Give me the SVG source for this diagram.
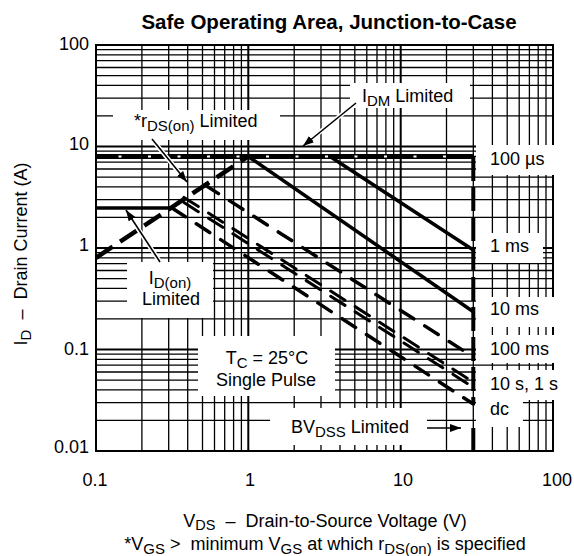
<svg xmlns="http://www.w3.org/2000/svg" width="574" height="556" viewBox="0 0 574 556">
<style>
.g{stroke:#000;stroke-width:1.3;fill:none}
.gm{stroke:#000;stroke-width:2;fill:none}
.box{fill:#fff}
.t{font-family:"Liberation Sans",Arial,Helvetica,sans-serif;font-size:18px;fill:#000}
.b{font-weight:bold;font-size:20.5px}
.solid{stroke:#000;stroke-width:3.5;fill:none}
.dash{stroke:#000;stroke-width:3.5;fill:none;stroke-dasharray:16 13;stroke-linecap:round}
.dash2{stroke:#000;stroke-width:3;fill:none;stroke-dasharray:17 12;stroke-linecap:round}
.halo{stroke:#fff;stroke-width:4.5;fill:none}
.arr{stroke:#000;stroke-width:1.6;fill:none}
</style>
<defs>
<marker id="ah" markerUnits="userSpaceOnUse" markerWidth="12" markerHeight="10" refX="11" refY="4" orient="auto">
<path d="M0 0L11 4L0 8Z" fill="#000"/>
</marker>
</defs>
<text class="t b" x="329" y="29" text-anchor="middle">Safe Operating Area, Junction-to-Case</text>
<g id="grid">
<path class="g" d="M141.9 45V451M168.7 45V451M187.7 45V451M202.5 45V451M214.5 45V451M224.7 45V451M233.6 45V451M241.4 45V451M294.2 45V451M321 45V451M340 45V451M354.8 45V451M366.8 45V451M377 45V451M385.9 45V451M393.7 45V451M446.5 45V451M473.3 45V451M492.4 45V451M507.2 45V451M519.2 45V451M529.4 45V451M538.2 45V451M546 45V451"/>
<path class="g" d="M96 49.6H553M96 54.8H553M96 60.7H553M96 67.5H553M96 75.55H553M96 85.4H553M96 98.1H553M96 115.95H553M96 151.1H553M96 156.3H553M96 162.2H553M96 169H553M96 177.05H553M96 186.9H553M96 199.6H553M96 217.45H553M96 252.6H553M96 257.8H553M96 263.7H553M96 270.5H553M96 278.55H553M96 288.4H553M96 301.1H553M96 318.95H553M96 354.1H553M96 359.3H553M96 365.2H553M96 372H553M96 380.05H553M96 389.9H553M96 402.6H553M96 420.45H553"/>
<path class="gm" d="M248.3 45V451M400.7 45V451M96 146.5H553M96 248H553M96 349.5H553"/>
<rect class="gm" x="96" y="45" width="457" height="406"/>
</g>
<g id="label-boxes">
<rect class="box" x="113" y="110" width="167" height="30"/>
<rect class="box" x="350" y="83" width="120" height="25"/>
<rect class="box" x="127" y="262" width="86" height="56"/>
<rect class="box" x="198" y="336" width="137" height="60"/>
<rect class="box" x="270" y="408" width="157" height="37"/>
<rect class="box" x="476" y="145" width="86" height="30"/>
<rect class="box" x="476" y="233" width="67" height="30"/>
<rect class="box" x="476" y="297" width="86" height="30"/>
<rect class="box" x="476" y="335" width="86" height="28"/>
<rect class="box" x="476" y="370" width="86" height="30"/>
<rect class="box" x="476" y="400" width="47" height="27"/>
</g>
<g id="connectors">
<path d="M96 156.5H473.3" stroke="#000" stroke-width="5" fill="none"/>
<path d="M118.5 156.5H470" stroke="#fff" stroke-width="2" stroke-dasharray="3 26.5" fill="none"/>
<path d="M473.3 157V404" stroke="#000" stroke-width="4" stroke-dasharray="24 6" fill="none"/>
<path d="M473.3 428V451" stroke="#000" stroke-width="4" fill="none"/>
<path d="M96 257.8L248.3 156.3" stroke="#000" stroke-width="4.5" stroke-dasharray="20 9" fill="none"/>
<path class="solid" d="M96 208H172"/>
<path class="solid" d="M248.3 156.5L473.3 311.7"/>
<path class="solid" d="M330 156.5L473.3 250"/>
<path class="dash" d="M205 185L473.3 357"/>
<path class="dash2" d="M184 197.4L473.3 382.1"/>
<path class="dash2" d="M184 202.6L473.3 387.3"/>
<path class="dash" d="M172 208L473.3 404"/>
<path class="halo" d="M152 139L185 180"/>
<path class="arr" d="M152 139L187 182" marker-end="url(#ah)"/>
<path class="halo" d="M356 103L305 144"/>
<path class="arr" d="M356 103L303 146" marker-end="url(#ah)"/>
<path class="halo" d="M160 262L127 212"/>
<path class="arr" d="M160 262L126 210" marker-end="url(#ah)"/>
<path class="arr" d="M427 428H461" stroke-width="2" marker-end="url(#ah)"/>
</g>
<g id="labels">
<text class="t" x="134" y="127">*r<tspan font-size="15" dy="4">DS(on)</tspan><tspan dy="-4"> Limited</tspan></text>
<text class="t" x="362" y="102">I<tspan font-size="15" dy="4">DM</tspan><tspan dy="-4"> Limited</tspan></text>
<text class="t" x="170" y="284" text-anchor="middle">I<tspan font-size="15" dy="3.5">D(on)</tspan></text>
<text class="t" x="171" y="305" text-anchor="middle">Limited</text>
<text class="t" x="267" y="364" text-anchor="middle">T<tspan font-size="15" dy="3.5">C</tspan><tspan dy="-3.5"> = 25°C</tspan></text>
<text class="t" x="266" y="386" text-anchor="middle">Single Pulse</text>
<text class="t" x="291" y="433">BV<tspan font-size="15" dy="4">DSS</tspan><tspan dy="-4"> Limited</tspan></text>
<text class="t" x="490" y="165">100 µs</text>
<text class="t" x="490" y="252">1 ms</text>
<text class="t" x="490" y="315">10 ms</text>
<text class="t" x="490" y="355">100 ms</text>
<text class="t" x="490" y="390">10 s, 1 s</text>
<text class="t" x="490" y="415">dc</text>
</g>
<g id="axes">
<text class="t" x="89" y="50" text-anchor="end">100</text>
<text class="t" x="89" y="150" text-anchor="end">10</text>
<text class="t" x="89" y="251" text-anchor="end">1</text>
<text class="t" x="89" y="355" text-anchor="end">0.1</text>
<text class="t" x="89" y="453" text-anchor="end">0.01</text>
<text class="t" x="95" y="486" text-anchor="middle">0.1</text>
<text class="t" x="250" y="486" text-anchor="middle">1</text>
<text class="t" x="403" y="486" text-anchor="middle">10</text>
<text class="t" x="557" y="486" text-anchor="middle">100</text>
<text class="t" x="325" y="527" text-anchor="middle">V<tspan font-size="14.5" dy="3">DS</tspan><tspan dy="-3">&#160; –&#160; Drain-to-Source Voltage (V)</tspan></text>
<text class="t" x="325" y="550" text-anchor="middle">*V<tspan font-size="15" dy="3.5">GS</tspan><tspan dy="-3.5"> &gt;&#160; minimum V</tspan><tspan font-size="15" dy="3.5">GS</tspan><tspan dy="-3.5"> at which r</tspan><tspan font-size="15" dy="3.5">DS(on)</tspan><tspan dy="-3.5"> is specified</tspan></text>
<text class="t" transform="translate(27 254) rotate(-90)" text-anchor="middle">I<tspan font-size="15" dy="4">D</tspan><tspan dy="-4">&#160; –&#160; Drain Current (A)</tspan></text>
</g>
</svg>
